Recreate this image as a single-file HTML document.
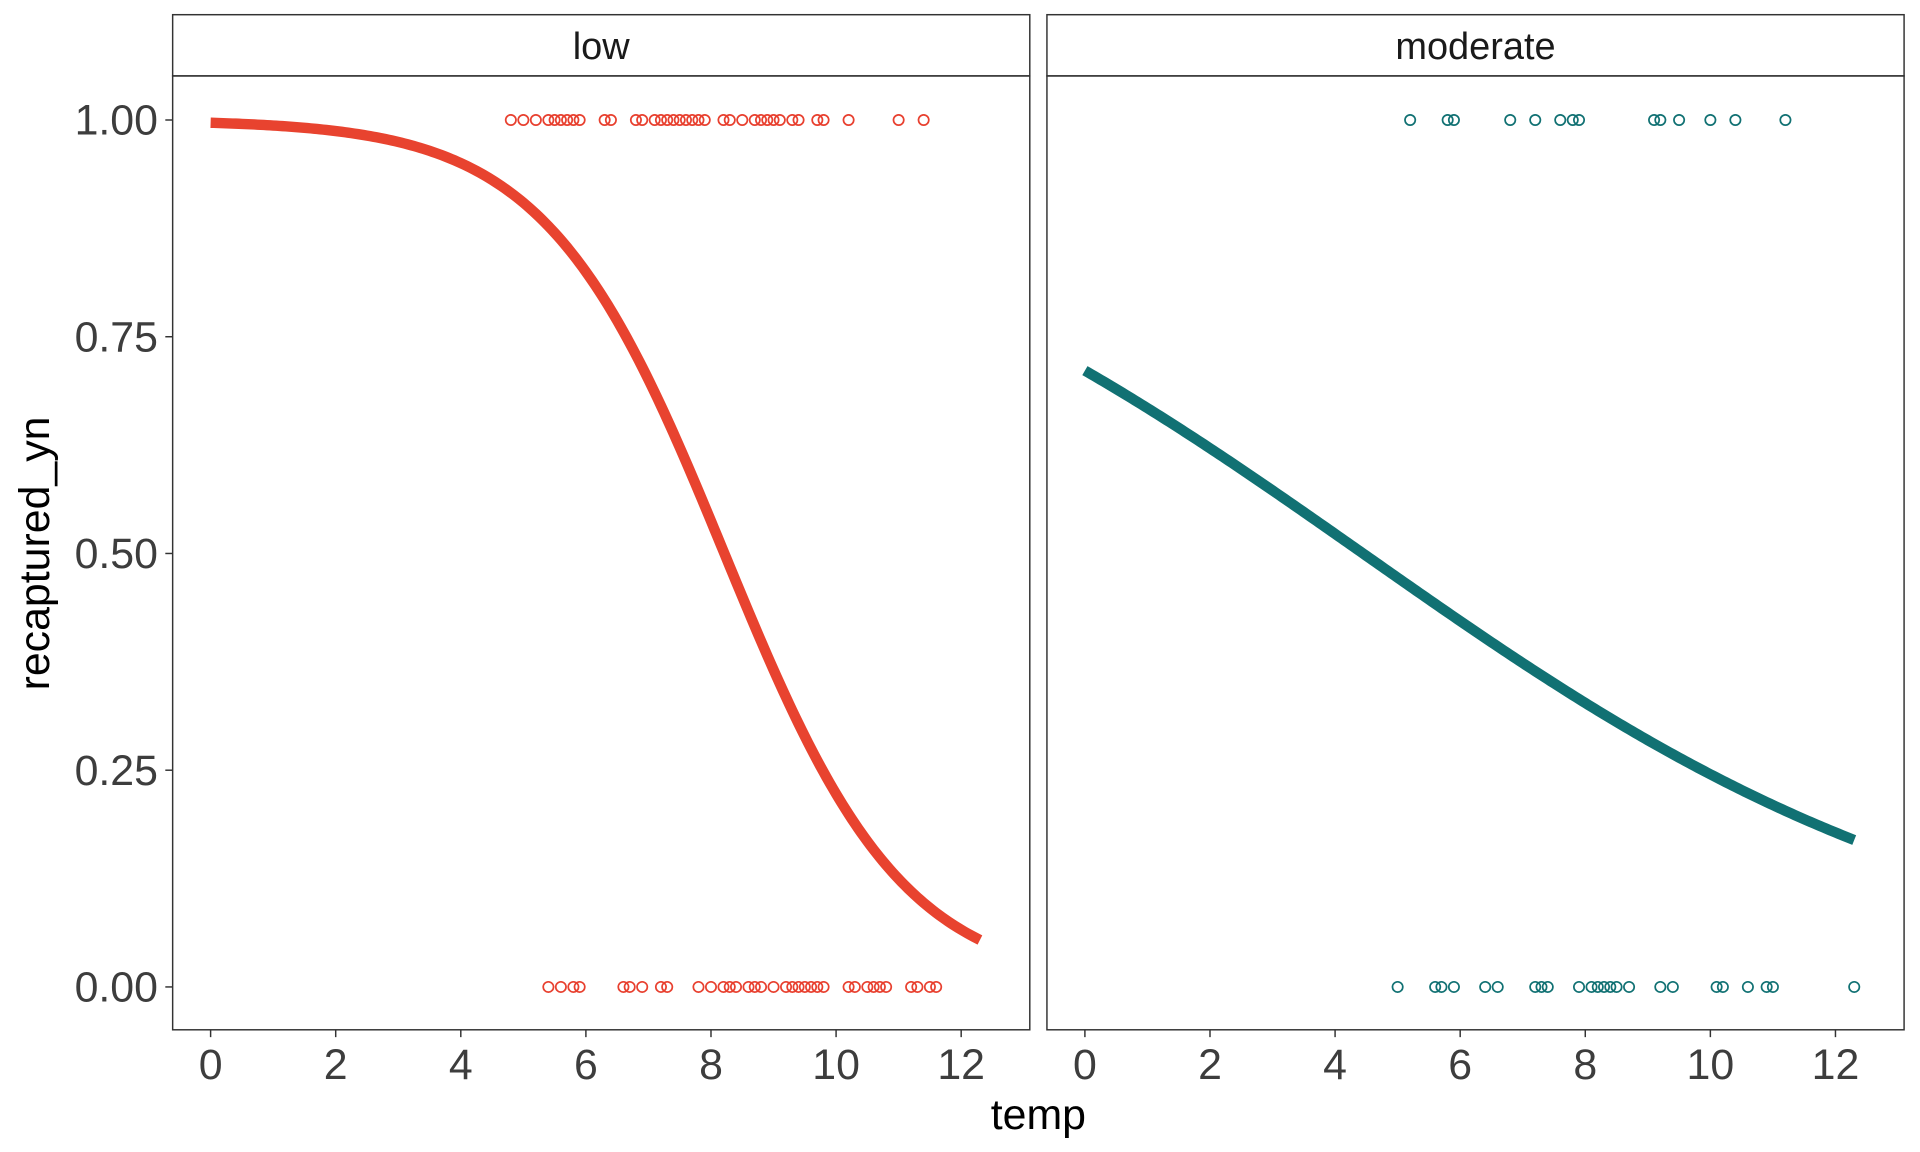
<!DOCTYPE html>
<html><head><meta charset="utf-8"><style>
html,body{margin:0;padding:0;background:#fff;}
svg{display:block;font-family:"Liberation Sans",sans-serif;}
</style></head><body>
<svg id="s" width="1920" height="1152" viewBox="0 0 1568 940.8" xmlns="http://www.w3.org/2000/svg">
<rect width="1568" height="941" fill="#fff"/>
<g fill="none" stroke="#333" stroke-width="1.2">
<rect x="141" y="12" width="700" height="50"/>
<rect x="141" y="62" width="700" height="779"/>
<rect x="855" y="12" width="700" height="50"/>
<rect x="855" y="62" width="700" height="779"/>
</g>
<g font-size="31" fill="#1a1a1a" text-anchor="middle">
<text x="491" y="48">low</text>
<text x="1205" y="48">moderate</text>
</g>
<g id="ticks" stroke="#333" stroke-width="1.2"></g>
<g id="tl" font-size="35" fill="#3d3d3d"></g>
<text x="848" y="922" font-size="35" text-anchor="middle" fill="#000">temp</text>
<text transform="translate(40,452) rotate(-90)" font-size="35" text-anchor="middle" fill="#000">recaptured_yn</text>
<g id="pts" fill="none" stroke-width="1.4"></g>
<g id="cv" fill="none" stroke-width="8.5"></g>
</svg>
<script>
var NS="http://www.w3.org/2000/svg";
function el(p,t,a,txt){var e=document.createElementNS(NS,t);for(var k in a)e.setAttribute(k,a[k]);if(txt!=null)e.textContent=txt;document.getElementById(p).appendChild(e);}
function X(o,t){return o+t*51.08;}
function Y(p){return 806-708*p;}
[[0,"0.00"],[0.25,"0.25"],[0.5,"0.50"],[0.75,"0.75"],[1,"1.00"]].forEach(function(v){
 var y=Y(v[0]);el("ticks","line",{x1:135,x2:141,y1:y,y2:y});
 el("tl","text",{x:129,y:y+12,"text-anchor":"end"},v[1]);});
[172,886].forEach(function(o){[0,2,4,6,8,10,12].forEach(function(t){
 var x=X(o,t);el("ticks","line",{x1:x,x2:x,y1:841,y2:847});
 el("tl","text",{x:x,y:881,"text-anchor":"middle"},String(t));});});
var lt=[4.8,5.0,5.2,5.4,5.5,5.6,5.7,5.8,5.9,6.3,6.4,6.8,6.9,7.1,7.2,7.3,7.4,7.5,7.6,7.7,7.8,7.9,8.2,8.3,8.5,8.7,8.8,8.9,9.0,9.1,9.3,9.4,9.7,9.8,10.2,11.0,11.4];
var lb=[5.4,5.6,5.8,5.9,6.6,6.7,6.9,7.2,7.3,7.8,8.0,8.2,8.3,8.4,8.6,8.7,8.8,9.0,9.2,9.3,9.4,9.5,9.6,9.7,9.8,10.2,10.3,10.5,10.6,10.7,10.8,11.2,11.3,11.5,11.6];
var mt=[5.2,5.8,5.9,6.8,7.2,7.6,7.8,7.9,9.1,9.2,9.5,10.0,10.4,11.2];
var mb=[5.0,5.6,5.7,5.9,6.4,6.6,7.2,7.3,7.4,7.9,8.1,8.2,8.3,8.4,8.5,8.7,9.2,9.4,10.1,10.2,10.6,10.9,11.0,12.3];
function pts(a,o,p,c){a.forEach(function(t){el("pts","circle",{cx:X(o,t),cy:Y(p),r:4.2,stroke:c});});}
pts(lt,172,1,"#e8402f");pts(lb,172,0,"#e8402f");pts(mt,886,1,"#117173");pts(mb,886,0,"#117173");
function curve(o,a,b,c){var d="";for(var t=0;t<=12.3001;t+=0.05){var p=1/(1+Math.exp(-(a+b*t)));d+=(d?"L":"M")+X(o,t).toFixed(2)+","+Y(p).toFixed(2);}
 el("cv","path",{d:d,stroke:c});}
curve(172,5.75,-0.7,"#e8432f");
curve(886,0.9,-0.2024,"#117173");
</script>
</body></html>
